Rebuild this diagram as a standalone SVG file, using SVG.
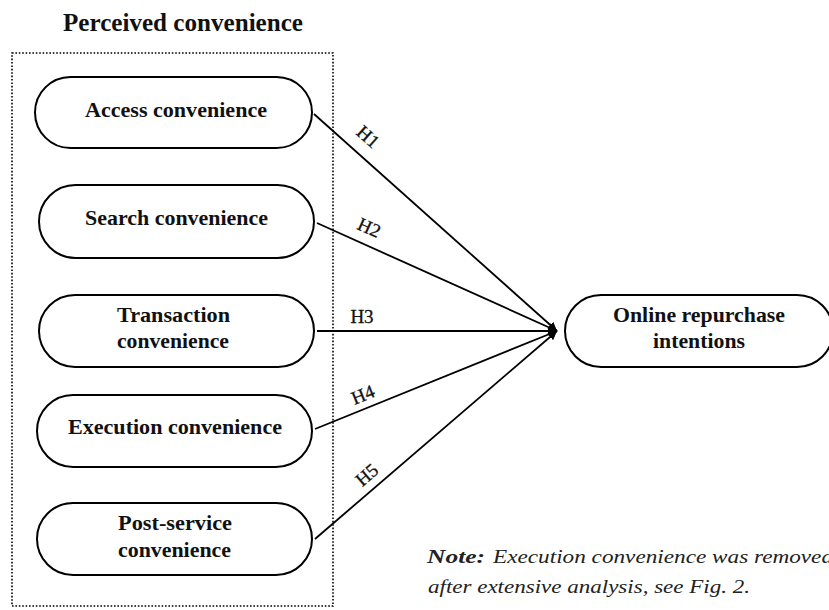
<svg xmlns="http://www.w3.org/2000/svg" width="829" height="610" viewBox="0 0 829 610">
<style>
.node{fill:#fff;stroke:#000;stroke-width:2}
.nt{font-family:"Liberation Serif","Times New Roman",serif;font-weight:bold;font-size:21px;fill:#111;text-anchor:middle}
.hl{font-family:"Liberation Serif","Times New Roman",serif;font-size:19px;fill:#111;stroke:#111;stroke-width:0.3;text-anchor:middle}
.edge{stroke:#000;stroke-width:1.8;fill:none}
.note{font-family:"Liberation Serif","Times New Roman",serif;font-style:italic;font-size:18px;fill:#222}
</style>
<defs>
<marker id="arr" markerUnits="userSpaceOnUse" markerWidth="9" markerHeight="9" refX="9" refY="4.5" orient="auto">
<path d="M0,0 L9,4.5 L0,9 z" fill="#000"/>
</marker>
</defs>
<rect width="829" height="610" fill="#fff"/>
<g id="group-perceived">
<text x="183" y="31" font-family="Liberation Serif, Times New Roman, serif" font-weight="bold" font-size="25" text-anchor="middle" fill="#111" textLength="240" lengthAdjust="spacingAndGlyphs">Perceived convenience</text>
<rect x="12" y="53" width="321" height="553" fill="none" stroke="#000" stroke-width="1.6" stroke-dasharray="1.6 1.8"/>
</g>
<g id="connectors">
<line class="edge" x1="314" y1="114" x2="557" y2="331" marker-end="url(#arr)"/>
<line class="edge" x1="317" y1="223" x2="557" y2="331" marker-end="url(#arr)"/>
<line class="edge" x1="317" y1="331" x2="557" y2="331" marker-end="url(#arr)"/>
<line class="edge" x1="315" y1="429" x2="557" y2="331" marker-end="url(#arr)"/>
<line class="edge" x1="315" y1="539" x2="557" y2="331" marker-end="url(#arr)"/>
<text class="hl" transform="translate(368,137) rotate(41.7)" y="6">H1</text>
<text class="hl" transform="translate(369,228) rotate(24.1)" y="6">H2</text>
<text class="hl" x="362" y="323">H3</text>
<text class="hl" transform="translate(363,395) rotate(-22.1)" y="6">H4</text>
<text class="hl" transform="translate(367,475) rotate(-40.8)" y="6">H5</text>
</g>
<g id="access">
<rect class="node" x="35" y="77" width="277" height="71" rx="35.5"/>
<text class="nt" x="176" y="117" textLength="182" lengthAdjust="spacingAndGlyphs">Access convenience</text>
</g>
<g id="search">
<rect class="node" x="39" y="185" width="275" height="73" rx="36.5"/>
<text class="nt" x="176.5" y="225" textLength="183" lengthAdjust="spacingAndGlyphs">Search convenience</text>
</g>
<g id="transaction">
<rect class="node" x="39" y="295" width="275" height="72" rx="36"/>
<text class="nt" x="173.5" y="322" textLength="113" lengthAdjust="spacingAndGlyphs">Transaction</text>
<text class="nt" x="173" y="348" textLength="112" lengthAdjust="spacingAndGlyphs">convenience</text>
</g>
<g id="execution">
<rect class="node" x="37" y="395" width="275" height="72" rx="36"/>
<text class="nt" x="175" y="434" textLength="214" lengthAdjust="spacingAndGlyphs">Execution convenience</text>
</g>
<g id="post-service">
<rect class="node" x="37" y="503" width="275" height="72" rx="36"/>
<text class="nt" x="175" y="530" textLength="114" lengthAdjust="spacingAndGlyphs">Post-service</text>
<text class="nt" x="174.5" y="557" textLength="113" lengthAdjust="spacingAndGlyphs">convenience</text>
</g>
<g id="online">
<rect class="node" x="565" y="295" width="268" height="72" rx="36"/>
<text class="nt" x="699" y="322" textLength="172" lengthAdjust="spacingAndGlyphs">Online repurchase</text>
<text class="nt" x="699" y="348" textLength="92" lengthAdjust="spacingAndGlyphs">intentions</text>
</g>
<g id="note">
<text class="note" x="427" y="563"><tspan font-weight="bold" textLength="58" lengthAdjust="spacingAndGlyphs">Note:</tspan><tspan x="493" textLength="340" lengthAdjust="spacingAndGlyphs">Execution convenience was removed</tspan></text>
<text class="note" x="428" y="593" textLength="322" lengthAdjust="spacingAndGlyphs">after extensive analysis, see Fig. 2.</text>
</g>
</svg>
